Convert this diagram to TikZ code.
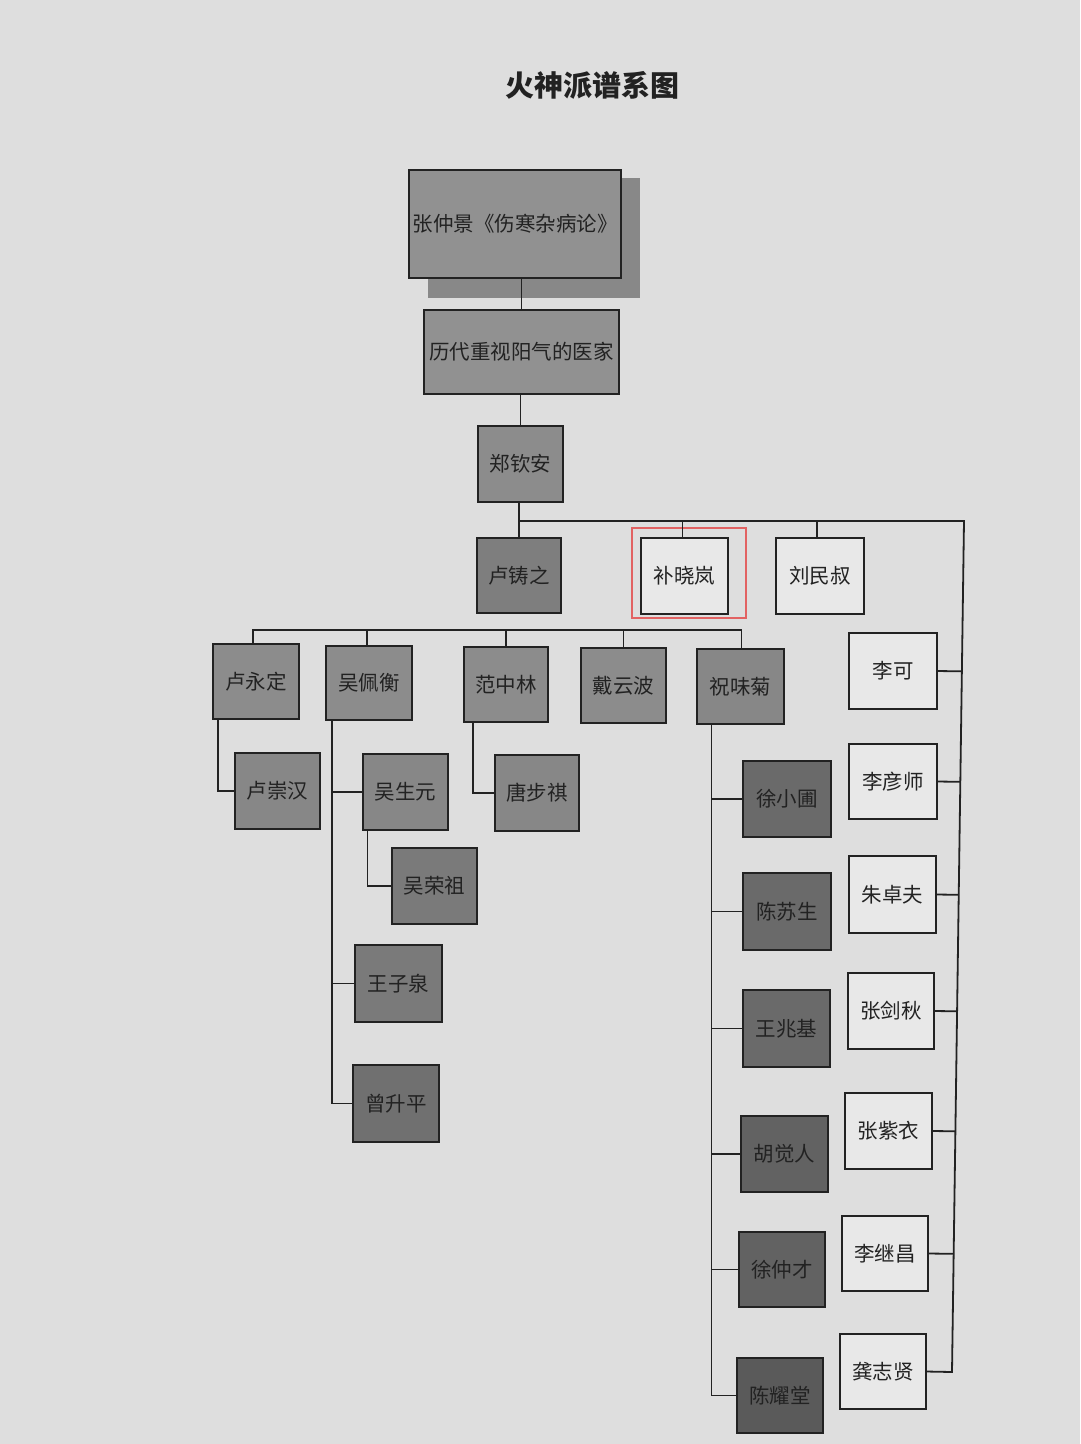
\documentclass[tikz,border=0pt]{standalone}
\usepackage{fontspec}
\setmainfont{Noto Sans CJK SC}
\usetikzlibrary{calc}
\definecolor{paper}{HTML}{DEDEDE}
\definecolor{ink}{HTML}{222222}
\definecolor{hl}{HTML}{E26262}
\definecolor{shadowc}{HTML}{888888}
\definecolor{gA}{HTML}{919191}
\definecolor{gB}{HTML}{8C8C8C}
\definecolor{gC}{HTML}{7E7E7E}
\definecolor{gD}{HTML}{878787}
\definecolor{gE}{HTML}{7A7A7A}
\definecolor{gF}{HTML}{707070}
\definecolor{gG}{HTML}{6A6A6A}
\definecolor{gH}{HTML}{626262}
\definecolor{gI}{HTML}{5A5A5A}
\tikzset{
  box/.style={draw=ink, line width=1.7pt, inner sep=0pt, outer sep=0pt, text=ink, font=\fontsize{20.5}{24}\selectfont},
  wbox/.style={box, fill=paper!70!white},
  link/.style={draw=ink, line width=1.8pt},
}
% #1 name, #2 x1, #3 y1, #4 x2, #5 y2, #6 fill, #7 text
\newcommand\gbox[7]{%
  \node[box, fill=#6, minimum width={(#4-#2)*1pt}, minimum height={(#5-#3)*1pt}]
    (#1) at ({(#2+#4)/2},{(#3+#5)/2}) {#7};}
\newcommand\wbox[6]{%
  \node[wbox, minimum width={(#4-#2)*1pt}, minimum height={(#5-#3)*1pt}]
    (#1) at ({(#2+#4)/2},{(#3+#5)/2}) {#6};}
\begin{document}
\begin{tikzpicture}[x=1pt,y=-1pt]
\fill[paper] (0,0) rectangle (1080,1444);
\useasboundingbox (0,0) rectangle (1080,1444);

% title
\node[text=ink, font=\fontsize{29}{34}\selectfont\bfseries] (title) at (592,85) {火神派谱系图};

% top box with shadow
\fill[shadowc] (428,178) rectangle (640,298);
\gbox{top}{409}{170}{621}{278}{gA}{张仲景《伤寒杂病论》}
\gbox{hist}{424}{310}{619}{394}{gA}{历代重视阳气的医家}
\gbox{zqa}{478}{426}{563}{502}{gB}{郑钦安}
\gbox{lzz}{477}{538}{561}{613}{gC}{卢铸之}
\wbox{bxl}{641}{538}{728}{614}{补晓岚}
\wbox{lms}{776}{538}{864}{614}{刘民叔}
\draw[hl, line width=1.3pt] (632,528) rectangle (746,618);

% generation 3
\gbox{lyd}{213}{644}{299}{719}{gB}{卢永定}
\gbox{wph}{326}{646}{412}{720}{gB}{吴佩衡}
\gbox{fzl}{464}{647}{548}{722}{gB}{范中林}
\gbox{dyb}{581}{648}{666}{723}{gB}{戴云波}
\gbox{zwj}{697}{649}{784}{724}{gD}{祝味菊}

% generation 4 (left)
\gbox{lch}{235}{753}{320}{829}{gD}{卢崇汉}
\gbox{wsy}{363}{754}{448}{830}{gD}{吴生元}
\gbox{tbq}{495}{755}{579}{831}{gD}{唐步祺}
\gbox{wrz}{392}{848}{477}{924}{gE}{吴荣祖}
\gbox{wzq}{355}{945}{442}{1022}{gE}{王子泉}
\gbox{zsp}{353}{1065}{439}{1142}{gF}{曾升平}

% students of 祝味菊
\gbox{xxp}{743}{761}{831}{837}{gG}{徐小圃}
\gbox{css}{743}{873}{831}{950}{gG}{陈苏生}
\gbox{wzj}{743}{990}{830}{1067}{gG}{王兆基}
\gbox{hjr}{741}{1116}{828}{1192}{gH}{胡觉人}
\gbox{xzc}{739}{1232}{825}{1307}{gH}{徐仲才}
\gbox{cyt}{737}{1358}{823}{1433}{gI}{陈耀堂}

% right column
\wbox{lk}{849}{633}{937}{709}{李可}
\wbox{lys}{849}{744}{937}{819}{李彦师}
\wbox{zzf}{849}{856}{936}{933}{朱卓夫}
\wbox{zjq}{848}{973}{934}{1049}{张剑秋}
\wbox{zzy}{845}{1093}{932}{1169}{张紫衣}
\wbox{ljc}{842}{1216}{928}{1291}{李继昌}
\wbox{gzx}{840}{1334}{926}{1409}{龚志贤}

% ---- connectors ----
\draw[link] (hist.north) -- (hist.north |- top.south);
\draw[link] (zqa.north) -- (zqa.north |- hist.south);
\draw[link] (lzz.north) -- (lzz.north |- zqa.south);

\coordinate (busL) at (lzz.north |- 0,521);
\coordinate (busR) at (964,521);
\coordinate (rEnd) at (952,1372);
\draw[link] (busL) -- (busR) -- (rEnd) -- (gzx.east);
\draw[link] ([xshift=-2]bxl.north) -- ([xshift=-2]bxl.north |- busL);
\draw[link] ([xshift=-3]lms.north) -- ([xshift=-3]lms.north |- busL);
\foreach \n in {lk,lys,zzf,zjq,zzy,ljc}
  \draw[link] (\n.east) -- ($(busR)!(\n.east)!(rEnd)$);

% generation 3 bus
\coordinate (g3) at (0,630);
\draw[link] ([xshift=-3]lyd.north) -- ([xshift=-3]lyd.north |- g3) -- ([xshift=1]zwj.north |- g3) -- ([xshift=1]zwj.north);
\foreach \n/\s in {wph/-2,fzl/0,dyb/0}
  \draw[link] ([xshift=\s]\n.north) -- ([xshift=\s]\n.north |- g3);

% generation 4
\draw[link] ([xshift=-38]lyd.south) |- (lch.west);
\draw[link] ([xshift=-37]wph.south) |- (zsp.west);
\draw[link] (wsy.west) -- ([xshift=-37]wph.south |- wsy.west);
\draw[link] (wzq.west) -- ([xshift=-37]wph.south |- wzq.west);
\draw[link] ([xshift=-38]wsy.south) |- (wrz.west);
\draw[link] ([xshift=-33]fzl.south) |- (tbq.west);

\draw[link] ([xshift=-29]zwj.south) |- (cyt.west);
\foreach \n in {xxp,css,wzj,hjr,xzc}
  \draw[link] (\n.west) -- ([xshift=-29]zwj.south |- \n.west);
\end{tikzpicture}
\end{document}
